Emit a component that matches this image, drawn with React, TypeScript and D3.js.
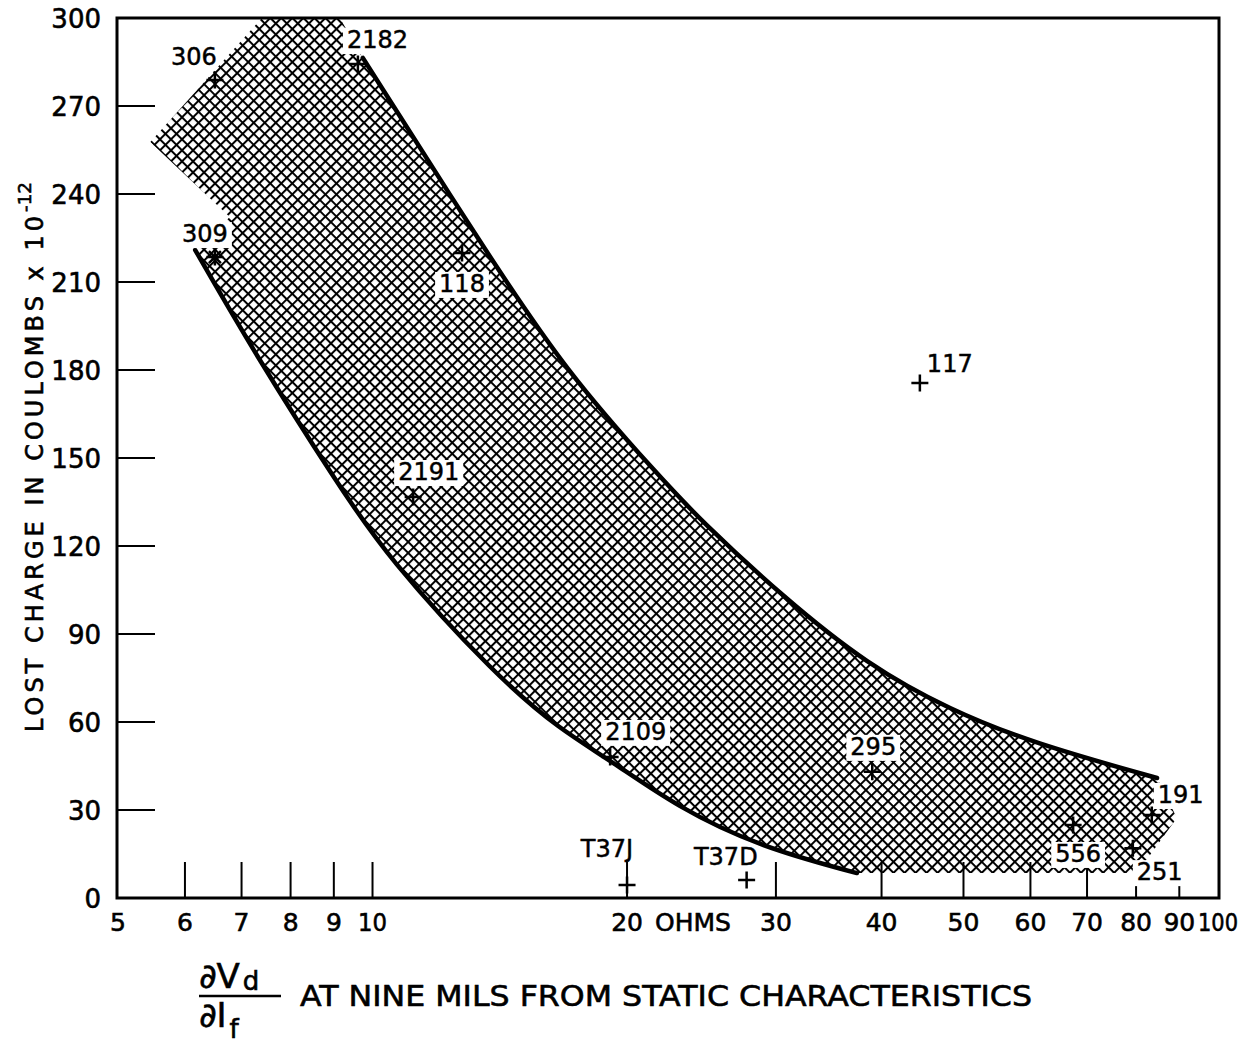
import React, { useEffect, useRef } from 'react';
import * as d3 from 'd3';

// axis values
const xTickLabels = [5, 6, 7, 8, 9, 10, 20, 30, 40, 50, 60, 70, 80, 90, 100];
const xTickMarks = [6, 7, 8, 9, 10, 20, 30, 40, 50, 60, 70, 80, 90];
const yTickLabels = [0, 30, 60, 90, 120, 150, 180, 210, 240, 270, 300];
const yTickMarks = [30, 60, 90, 120, 150, 180, 210, 240, 270];

// measured points
const pointIds = ['306', '2182', '309', '118', '117', '2191', '2109', '295', 'T37J', 'T37D', '556', '191', '251'];
const pointX = [6.51, 9.61, 6.51, 12.76, 44.4, 11.17, 19.1, 39.0, 20.0, 27.7, 67.4, 83.5, 79.3];
const pointY = [278.9, 284.3, 218.5, 219.9, 175.6, 136.7, 48.1, 43.0, 4.4, 6.1, 24.9, 28.3, 17.0];

// upper and lower boundary curves of the band
const upperX = [9.74, 13.51, 16.98, 21.88, 24.4, 30.6, 38.5, 48.2, 60.4, 84.7];
const upperY = [286.4, 221.9, 179.0, 143.5, 128.9, 102.6, 79.5, 64.1, 52.8, 40.9];
const lowerX = [6.17, 7.30, 9.08, 10.40, 14.04, 16.66, 19.10, 22.92, 28.73, 37.4];
const lowerY = [220.9, 184.4, 141.5, 116.3, 75.3, 57.5, 47.0, 31.0, 17.4, 8.5];

// extra corners of the hatched region
const leftCornerX = [6.78, 5.46, 7.40, 9.15];
const leftCornerY = [232.2, 257.7, 300, 300];
const rightCornerX = [89.4, 80.2];
const rightCornerY = [27.3, 8.5];

// label placement relative to marker: [dx, dy, anchor, box]
const labelPlace: Record<string, [number, number, string, boolean]> = {
  '306': [2, -15, 'end', false],
  '2182': [-11, -16, 'start', true],
  '309': [13, -15, 'end', true],
  '118': [0, 39, 'middle', true],
  '117': [7, -11, 'start', false],
  '2191': [-15, -17, 'start', true],
  '2109': [-5, -17, 'start', true],
  '295': [1, -17, 'middle', true],
  'T37J': [6, -28, 'end', false],
  'T37D': [11, -15, 'end', false],
  '556': [5, 37, 'middle', true],
  '191': [6, -12, 'start', true],
  '251': [4, 32, 'start', true],
};

const FONT = '"DejaVu Sans", sans-serif';

const App: React.FC = () => {
  const svgRef = useRef<SVGSVGElement>(null);

  useEffect(() => {
    if (!svgRef.current) return;
    const svg = d3.select(svgRef.current);
    svg.selectAll('*').remove();

    const left = 117, right = 1219, top = 18, bottom = 898;
    const x = d3.scaleLog().domain([5, 100]).range([118, 1218]);
    const y = d3.scaleLinear().domain([0, 300]).range([bottom, top]);

    svg.append('rect').attr('width', 1259).attr('height', 1045).attr('fill', '#fff');

    const cell = 7.8;
    const defs = svg.append('defs');
    const pat = defs.append('pattern')
      .attr('id', 'hatch')
      .attr('patternUnits', 'userSpaceOnUse')
      .attr('width', cell)
      .attr('height', cell)
      .attr('patternTransform', 'rotate(45)');
    pat.append('rect').attr('width', cell).attr('height', 2).attr('fill', '#000');
    pat.append('rect').attr('width', 2).attr('height', cell).attr('fill', '#000');

    defs.append('clipPath').attr('id', 'plotClip')
      .append('rect').attr('x', left).attr('y', top).attr('width', right - left).attr('height', bottom - top);

    const smooth = d3.line<[number, number]>().curve(d3.curveBasis);
    const toPx = (xs: number[], ys: number[]) => xs.map((v, i) => [x(v), y(ys[i])] as [number, number]);

    const upperPts = toPx(upperX, upperY);
    const lowerPts = toPx(lowerX, lowerY);
    const leftPts = toPx(leftCornerX, leftCornerY);
    const rightPts = toPx(rightCornerX, rightCornerY);

    // hatched band outline
    const lowerRev = [...lowerPts].reverse();
    let d = 'M' + lowerPts[0].join(',');
    leftPts.forEach(p => { d += 'L' + p.join(','); });
    d += (smooth(upperPts) || '').replace(/^M/, 'L');
    rightPts.forEach(p => { d += 'L' + p.join(','); });
    d += (smooth(lowerRev) || '').replace(/^M/, 'L');
    d += 'Z';

    svg.append('path')
      .attr('d', d)
      .attr('fill', 'url(#hatch)')
      .attr('clip-path', 'url(#plotClip)');

    // boundary curves
    [upperPts, lowerPts].forEach(pts => {
      svg.append('path')
        .attr('d', smooth(pts))
        .attr('fill', 'none')
        .attr('stroke', '#000')
        .attr('stroke-width', 4.5)
        .attr('stroke-linecap', 'round');
    });

    // frame
    svg.append('rect')
      .attr('x', left).attr('y', top)
      .attr('width', right - left).attr('height', bottom - top)
      .attr('fill', 'none').attr('stroke', '#000').attr('stroke-width', 3);

    // ticks
    svg.append('g').selectAll('line').data(yTickMarks).enter().append('line')
      .attr('x1', left).attr('x2', left + 38)
      .attr('y1', v => y(v)).attr('y2', v => y(v))
      .attr('stroke', '#000').attr('stroke-width', 2);
    svg.append('g').selectAll('line').data(xTickMarks).enter().append('line')
      .attr('x1', v => x(v)).attr('x2', v => x(v))
      .attr('y1', bottom).attr('y2', bottom - 36)
      .attr('stroke', '#000').attr('stroke-width', 2);

    const txt = svg.append('g')
      .attr('font-family', FONT)
      .attr('stroke', '#000').attr('stroke-width', 0.6);

    // tick labels
    txt.append('g').selectAll('text').data(yTickLabels).enter().append('text')
      .attr('x', 101).attr('y', v => y(v) + 9.5)
      .attr('text-anchor', 'end')
      .attr('font-size', 26)
      .text(v => String(v));
    txt.append('g').selectAll('text').data(xTickLabels).enter().append('text')
      .attr('x', v => x(v)).attr('y', 931)
      .attr('text-anchor', 'middle')
      .attr('font-size', 25)
      .attr('textLength', v => (v === 100 ? 40 : v === 10 ? 29 : null))
      .attr('lengthAdjust', 'spacingAndGlyphs')
      .text(v => String(v));
    txt.append('text')
      .attr('x', x(20) + 28).attr('y', 931)
      .attr('font-size', 25)
      .text('OHMS');

    // point labels
    const labels = svg.append('g');
    pointIds.forEach((id, i) => {
      const [dx, dy, anchor, box] = labelPlace[id];
      const px = x(pointX[i]), py = y(pointY[i]);
      const t = labels.append('text')
        .attr('x', px + dx).attr('y', py + dy)
        .attr('text-anchor', anchor)
        .attr('font-family', FONT).attr('font-size', 24)
        .attr('stroke', '#000').attr('stroke-width', 0.5)
        .text(id);
      if (box) {
        const bb = (t.node() as SVGTextElement).getBBox();
        labels.insert('rect', () => t.node() as SVGTextElement)
          .attr('x', bb.x - 4).attr('y', bb.y + 2)
          .attr('width', bb.width + 8).attr('height', bb.height - 2)
          .attr('fill', '#fff');
      }
    });

    // markers
    const markers = svg.append('g').attr('stroke', '#000').attr('stroke-width', 2.5);
    pointIds.forEach((id, i) => {
      const px = x(pointX[i]), py = y(pointY[i]);
      const s = 8.5;
      markers.append('path').attr('d', `M${px - s},${py}H${px + s}M${px},${py - s}V${py + s}`);
      if (id === '309') {
        const k = 6;
        markers.append('path').attr('d', `M${px - k},${py - k}L${px + k},${py + k}M${px + k},${py - k}L${px - k},${py + k}`);
      }
    });

    // y axis title
    const yt = txt.append('g').attr('transform', 'translate(43,732) rotate(-90)');
    yt.append('text')
      .attr('x', 0).attr('y', 0)
      .attr('font-size', 24)
      .attr('textLength', 516).attr('lengthAdjust', 'spacing')
      .text('LOST CHARGE IN COULOMBS x 10');
    yt.append('text')
      .attr('x', 520).attr('y', -12)
      .attr('font-size', 18)
      .attr('textLength', 30).attr('lengthAdjust', 'spacingAndGlyphs')
      .text('-12');

    // x axis title
    const xt = txt.append('g');
    const num = xt.append('text').attr('x', 199).attr('y', 988).attr('font-size', 34);
    num.append('tspan').text('\u2202V');
    num.append('tspan').attr('dx', 3).attr('dy', 2).attr('font-size', 26).text('d');
    xt.append('line').attr('x1', 199).attr('x2', 281).attr('y1', 996).attr('y2', 996)
      .attr('stroke', '#000').attr('stroke-width', 2.5);
    const den = xt.append('text').attr('x', 199).attr('y', 1027).attr('font-size', 34);
    den.append('tspan').text('\u2202I');
    den.append('tspan').attr('dx', 3).attr('dy', 11).attr('font-size', 26).text('f');
    xt.append('text')
      .attr('x', 300).attr('y', 1006)
      .attr('font-size', 29)
      .attr('textLength', 732).attr('lengthAdjust', 'spacingAndGlyphs')
      .text('AT NINE MILS FROM STATIC CHARACTERISTICS');
  }, []);

  return (
    <div style={{ position: 'absolute', left: 0, top: 0 }}>
      <svg ref={svgRef} width={1259} height={1045} style={{ display: 'block' }} />
    </div>
  );
};

export default App;
